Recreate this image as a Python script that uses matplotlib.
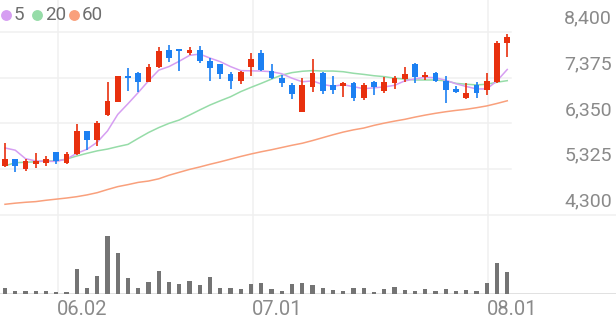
import matplotlib
matplotlib.use('Agg')
import matplotlib.pyplot as plt
from matplotlib.lines import Line2D
import numpy as np

# daily OHLC (50 sessions)
opens = [5400, 5550, 5320, 5430, 5470, 5700, 5470, 5660, 6180, 5980,
         6540, 6830, 7400, 7480, 7280, 7600, 7990, 8000, 7920, 7990,
         7750, 7670, 7450, 7300, 7600, 7920, 7520, 7370, 7210, 6610,
         7160, 7480, 7210, 7190, 7260, 6910, 7280, 7080, 7250, 7340,
         7680, 7380, 7480, 7300, 7110, 6910, 7210, 7100, 7280, 8150]
highs = [5920, 5560, 5550, 5680, 5630, 5710, 5700, 6330, 6190, 6410,
         7280, 7420, 7580, 7490, 7680, 8050, 8100, 8000, 8050, 8080,
         7820, 7680, 7500, 7520, 7920, 7990, 7670, 7430, 7250, 7370,
         7800, 7490, 7410, 7280, 7270, 7260, 7300, 7390, 7410, 7600,
         7690, 7490, 7490, 7420, 7190, 7250, 7280, 7480, 8190, 8340]
lows = [5380, 5260, 5280, 5360, 5400, 5440, 5430, 5640, 5760, 5840,
        6520, 6820, 7070, 7060, 7270, 7580, 7730, 7520, 7880, 7690,
        7300, 7340, 7120, 7220, 7420, 7520, 7340, 7170, 6890, 6600,
        7060, 7010, 7010, 6930, 6860, 6870, 6980, 7040, 7120, 7280,
        7260, 7320, 7270, 6800, 7020, 6890, 6920, 6980, 7250, 7840]
closes = [5550, 5400, 5510, 5510, 5550, 5510, 5660, 6180, 5970, 6350,
          6850, 7400, 7360, 7280, 7610, 7970, 7820, 7970, 8000, 7750,
          7580, 7450, 7300, 7490, 7800, 7540, 7360, 7250, 7010, 7210,
          7480, 7080, 7100, 7260, 6920, 7210, 7170, 7280, 7360, 7460,
          7390, 7430, 7300, 7100, 7060, 7040, 7040, 7300, 8140, 8280]

# moving averages as drawn
ma5 = [5800, 5750, 5560, 5510, 5500, 5500, 5550, 5680, 5770, 5930,
       6180, 6550, 6790, 7040, 7300, 7540, 7620, 7740, 7870, 7900,
       7810, 7730, 7620, 7530, 7525, 7520, 7505, 7460, 7360, 7280,
       7300, 7220, 7180, 7215, 7170, 7125, 7145, 7165, 7200, 7300,
       7345, 7380, 7370, 7315, 7235, 7175, 7120, 7120, 7300, 7555]
ma20 = [5400, 5470, 5480, 5490, 5510, 5510, 5550, 5620, 5680, 5735,
        5775, 5830, 5880, 6015, 6145, 6255, 6350, 6425, 6535, 6650,
        6760, 6855, 6945, 7060, 7155, 7245, 7340, 7430, 7485, 7515,
        7530, 7520, 7520, 7505, 7470, 7445, 7415, 7395, 7360, 7340,
        7320, 7320, 7320, 7300, 7245, 7225, 7210, 7225, 7270, 7305]
ma60 = [4540, 4565, 4585, 4600, 4630, 4655, 4680, 4710, 4750, 4800,
        4870, 4935, 4980, 5030, 5060, 5110, 5190, 5255, 5320, 5375,
        5435, 5490, 5550, 5610, 5665, 5715, 5760, 5810, 5860, 5905,
        5965, 6030, 6095, 6155, 6205, 6245, 6305, 6355, 6400, 6440,
        6490, 6535, 6575, 6610, 6640, 6665, 6700, 6740, 6795, 6855]

# volume, thousand shares
volume = [114, 66, 60, 60, 54, 46, 46, 494, 114, 360,
          1166, 826, 314, 126, 246, 460, 246, 194, 266, 180,
          334, 114, 114, 94, 200, 226, 100, 60, 200, 214,
          180, 114, 80, 66, 126, 114, 46, 100, 134, 80,
          66, 94, 60, 106, 66, 80, 60, 214, 626, 434]

price_ticks = [8400, 7375, 6350, 5325, 4300]
date_labels = ['06.02', '07.01', '08.01']
date_idx = [5, 24, 47]

UP, DOWN = '#e8300e', '#1c80f2'
C5, C20, C60 = '#d69ef2', '#96dca8', '#f9a07c'
GRID = '#f0f0f0'
TXT = '#8a8a8a'
plt.rcParams['font.family'] = ['Roboto', 'DejaVu Sans']

W, H = 616, 321
fig = plt.figure(figsize=(W / 100, H / 100), dpi=100)
px_per_bar = 10.25
xlim = (-5 / px_per_bar, (W - 5) / px_per_bar)

# price panel: pixel rows 0..221, 1025 won per 45.83 px
k = 1025 / 45.83
ax = fig.add_axes([0, 1 - 221 / H, 1, 221 / H])
ax.set_xlim(*xlim)
ax.set_ylim(8400 - (221 - 31.7) * k, 8400 + 31.7 * k)
ax.set_axis_off()

axv = fig.add_axes([0, 1 - 294 / H, 1, 73 / H])
axv.set_xlim(*xlim)
axv.set_ylim(0, max(volume) * 73 / 58.3)
axv.set_axis_off()

x = np.arange(len(closes))
o, h, l, c = map(np.array, (opens, highs, lows, closes))
up = c >= o
cols = np.where(up, UP, DOWN)

for p in price_ticks:
    ax.axhline(p, xmin=0, xmax=1 if p == price_ticks[-1] else 511 / W,
               color=GRID, lw=1.1, zorder=0)
    ax.annotate(f'{p:,}', xy=(1, p), xycoords=('axes fraction', 'data'),
                xytext=(-4, 13.5), textcoords='offset pixels',
                ha='right', va='center', fontsize=14, color=TXT)

for i, lab in zip(date_idx, date_labels):
    ax.axvline(i + 0.15, color=GRID, lw=1.1, zorder=0)
    axv.axvline(i + 0.15, color=GRID, lw=1.1, zorder=0)
    axv.annotate(lab, xy=(i + 0.15, 0), xytext=(-1, -15.5),
                 textcoords='offset pixels', ha='left', va='center',
                 fontsize=14.5, color=TXT)

ax.plot(x, ma60, color=C60, lw=1.1, zorder=2)
ax.plot(x, ma20, color=C20, lw=1.1, zorder=2)
ax.plot(x, ma5, color=C5, lw=1.1, zorder=2)

ax.vlines(x, l, h, colors=cols, lw=1.2, zorder=3)
body = np.maximum(np.abs(c - o), 35)
ax.bar(x, body, bottom=np.minimum(o, c), width=0.58, color=cols, zorder=4)

axv.axhline(0, color='#dedede', lw=1.3, zorder=1)
axv.bar(x, volume, width=0.4, color='#747474', zorder=2)

# legend
for cx, col, lab in [(6, C5, '5'), (37, C20, '20'), (74, C60, '60')]:
    fig.add_artist(Line2D([cx / W], [1 - 15 / H], marker='o', ms=6.8,
                          color=col, transform=fig.transFigure))
    fig.text((cx + 8) / W, 1 - 15.5 / H, lab, ha='left', va='center',
             fontsize=13.5, color='#6e6e6e')

fig.savefig('out.png', dpi=100)
